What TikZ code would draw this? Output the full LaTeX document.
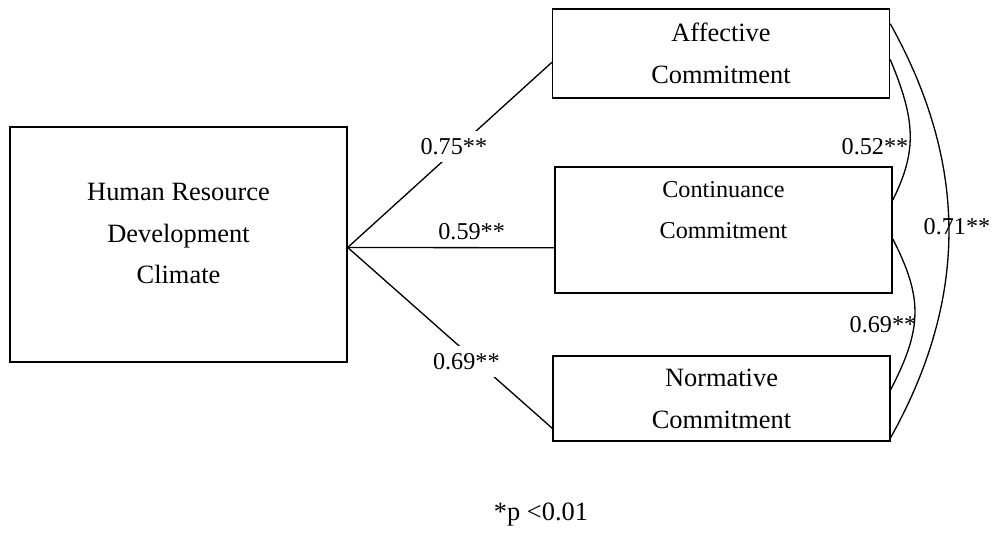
\documentclass[tikz,border=0pt]{standalone}
\usepackage{fontspec}
\setmainfont{Liberation Serif}

\begin{document}
\begin{tikzpicture}[x=0.4545pt,y=-0.4545pt,line width=0.6pt,
    box/.style={draw,inner sep=0pt,minimum width=153.2pt},
    txt/.style={align=center,font=\fontsize{12}{19}\selectfont},
    coef/.style={font=\fontsize{11}{13}\selectfont}]
                \useasboundingbox (0,0) rectangle (996,536);
                \node[box,minimum height=106.8pt] (hrd) at (178.5,244.5) {};
                \node[txt] (hrdtext) at ([yshift=5pt]hrd.center) {Human Resource\\Development\\Climate};
                \node[box,txt,minimum height=40.5pt] (aff) at (721,53.5) {Affective\\Commitment};
                \node[box,minimum height=57.3pt] (cont) at (723.5,230) {};
                \node[txt,font=\fontsize{11}{19}\selectfont] (conttext) at ([yshift=9pt]cont.center) {Continuance\\Commitment};
                \node[box,txt,minimum height=38.6pt] (norm) at (721.5,398.5) {Normative\\Commitment};
                \draw (hrd.-1) -- node[coef,pos=.52,fill=white,yshift=2pt] {0.75**} (aff.183);
                \draw (hrd.-1) -- node[coef,pos=.6,above] {0.59**} (cont.186);
                \draw (hrd.-1) -- node[coef,pos=.58,fill=white,yshift=-4pt] {0.69**} (norm.190);
                \draw (aff.-2) .. controls +(25,60) and +(25,-50) .. (cont.10);
                \draw (cont.-3) .. controls +(31,60) and +(31,-60) .. (norm.3);
                \draw (aff.10) .. controls +(78,140) and +(78,-140) .. (norm.-13);
                \node[coef] (r1) at (875,147) {0.52**};
                \node[coef] (r2) at (883,325) {0.69**};
                \node[coef] (r3) at (957,227) {0.71**};
                \node[font=\fontsize{12}{14}\selectfont] (note) at (541,515) {*p <0.01};
            \end{tikzpicture}
\end{document}
